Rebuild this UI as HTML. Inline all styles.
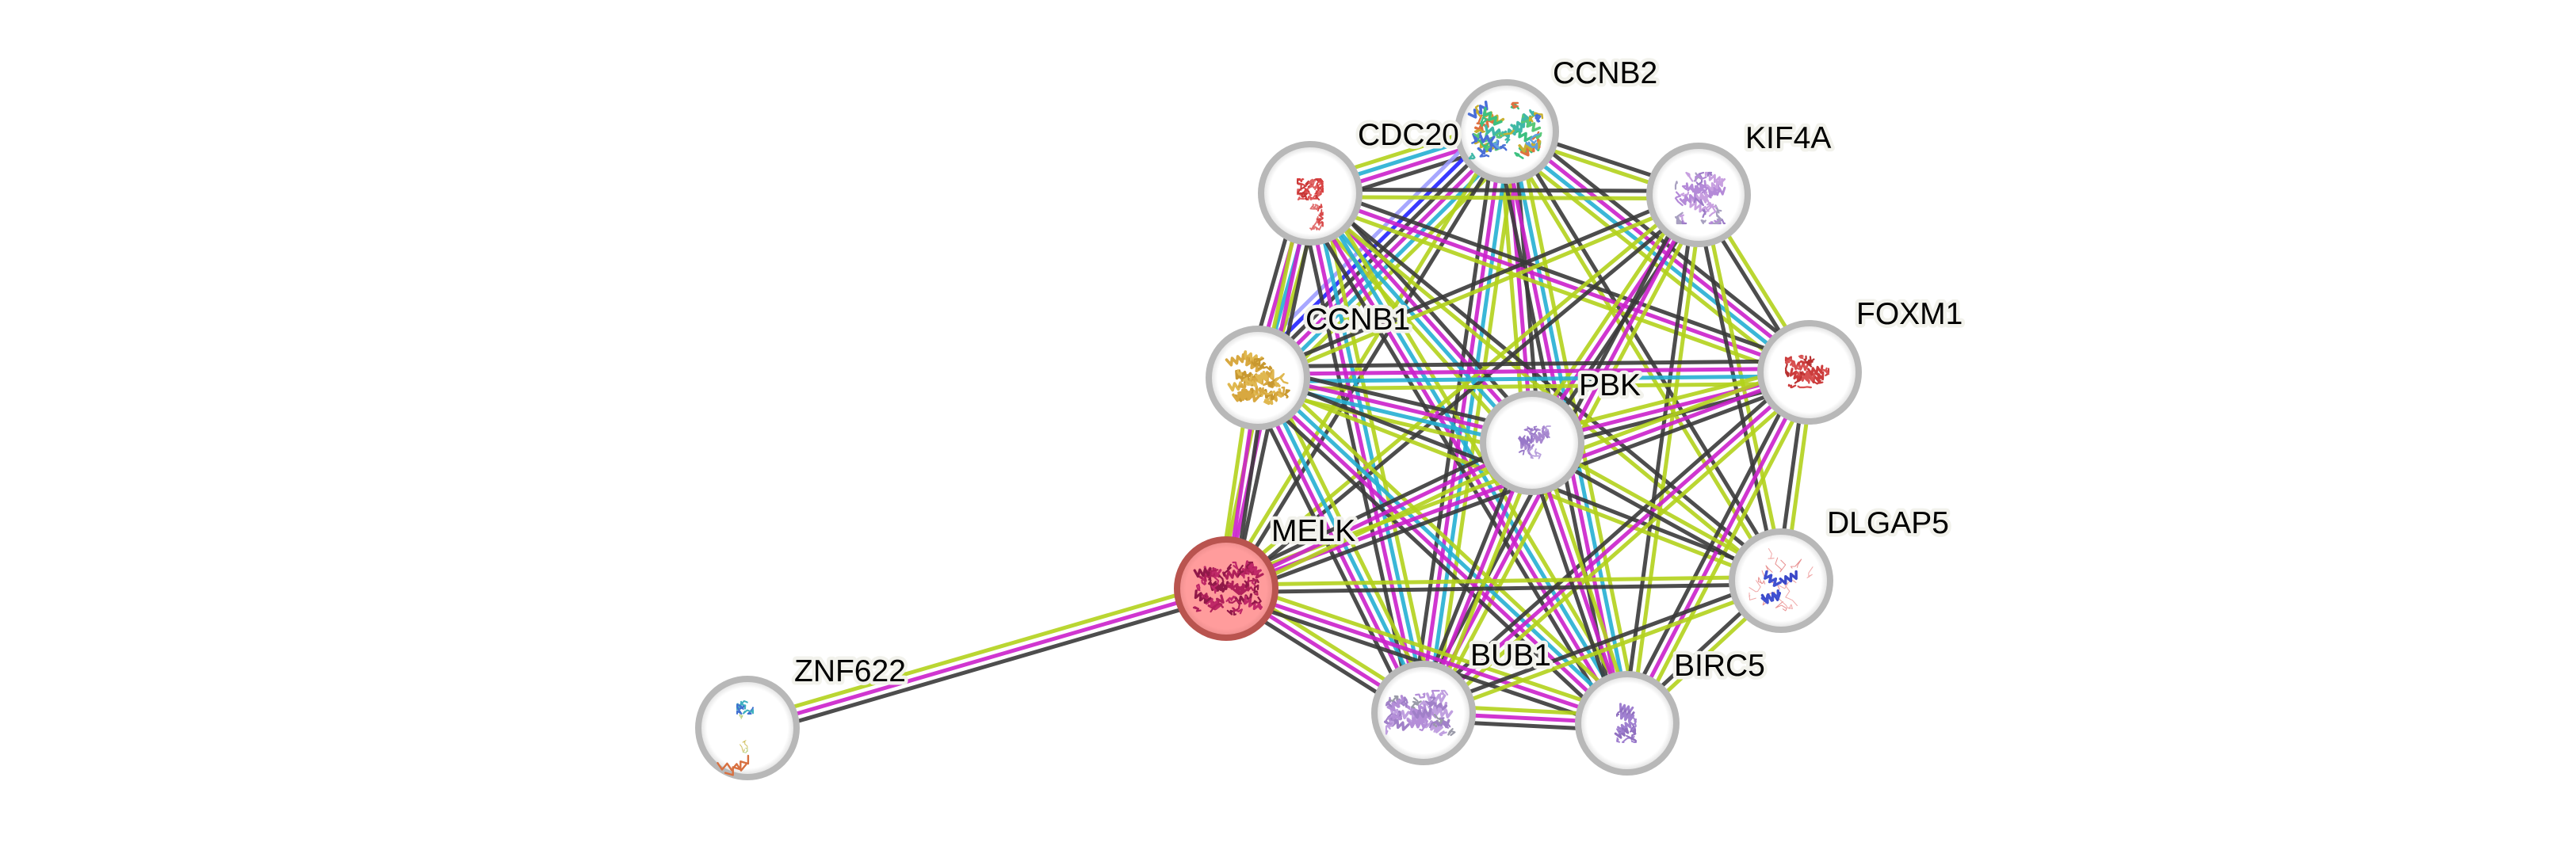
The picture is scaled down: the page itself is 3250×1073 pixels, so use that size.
<!DOCTYPE html>
<html>
<head>
<meta charset="utf-8">
<style>
html,body{margin:0;padding:0;background:#ffffff;}
svg{display:block;}
text{font-family:"Liberation Sans",Arial,sans-serif;font-size:39px;fill:#000;stroke:#f2f2ec;stroke-width:9px;stroke-linejoin:round;paint-order:stroke fill;}
</style>
</head>
<body>
<svg id="s" width="3250" height="1073" viewBox="0 0 3250 1073" xmlns="http://www.w3.org/2000/svg">
<defs>
<radialGradient id="gw" cx="50%" cy="50%" r="50%">
<stop offset="0.82" stop-color="#ffffff"/>
<stop offset="1" stop-color="#d8d8d8"/>
</radialGradient>
<radialGradient id="gp" cx="50%" cy="50%" r="50%">
<stop offset="0.82" stop-color="#ff9c9c"/>
<stop offset="1" stop-color="#e98a8a"/>
</radialGradient>
</defs>
<rect x="0" y="0" width="3250" height="1073" fill="#ffffff"/>
<g id="edges"></g>
<g id="nodes">
<circle cx="1901" cy="166" r="62" fill="url(#gw)" stroke="#b8b8b8" stroke-width="8"/>
<circle cx="1653" cy="244" r="62" fill="url(#gw)" stroke="#b8b8b8" stroke-width="8"/>
<circle cx="2143" cy="246" r="62" fill="url(#gw)" stroke="#b8b8b8" stroke-width="8"/>
<circle cx="1587" cy="477" r="62" fill="url(#gw)" stroke="#b8b8b8" stroke-width="8"/>
<circle cx="2283" cy="470" r="62" fill="url(#gw)" stroke="#b8b8b8" stroke-width="8"/>
<circle cx="1933" cy="559" r="62" fill="url(#gw)" stroke="#b8b8b8" stroke-width="8"/>
<circle cx="1547" cy="743" r="62" fill="url(#gp)" stroke="#b9544f" stroke-width="8"/>
<circle cx="2247" cy="733" r="62" fill="url(#gw)" stroke="#b8b8b8" stroke-width="8"/>
<circle cx="1796" cy="900" r="62" fill="url(#gw)" stroke="#b8b8b8" stroke-width="8"/>
<circle cx="2053" cy="913" r="62" fill="url(#gw)" stroke="#b8b8b8" stroke-width="8"/>
<circle cx="943" cy="919" r="62" fill="url(#gw)" stroke="#b8b8b8" stroke-width="8"/>
</g>
<g id="decor"></g>
<g id="labels">
<text x="1959" y="105">CCNB2</text>
<text x="1713" y="183">CDC20</text>
<text x="2202" y="187">KIF4A</text>
<text x="1647" y="416">CCNB1</text>
<text x="2342" y="409">FOXM1</text>
<text x="1992" y="499">PBK</text>
<text x="1604" y="683">MELK</text>
<text x="2305" y="673">DLGAP5</text>
<text x="1855" y="840">BUB1</text>
<text x="2112" y="853">BIRC5</text>
<text x="1002" y="860">ZNF622</text>
</g>
</svg>
<script>
(function(){
var ns="http://www.w3.org/2000/svg";
var N={CCNB2:[1901,166],CDC20:[1653,244],KIF4A:[2143,246],CCNB1:[1587,477],FOXM1:[2283,470],PBK:[1933,559],MELK:[1547,743],DLGAP5:[2247,733],BUB1:[1796,900],BIRC5:[2053,913],ZNF622:[943,919]};
var COL={L:"#b2d11c",C:"#25afd3",M:"#cb20cb",K:"#3a3a3a",B:"#2424ff",P:"#9d9dff"};
var E=[
["CCNB2","CDC20","LCMK"],["CCNB2","KIF4A","LK"],["CCNB2","CCNB1","LCMKBP"],["CCNB2","FOXM1","LCMK"],["CCNB2","PBK","LMK"],["CCNB2","MELK","LK"],["CCNB2","DLGAP5","LK"],["CCNB2","BUB1","LCMK"],["CCNB2","BIRC5","LCMK"],
["CDC20","KIF4A","LK"],["CDC20","CCNB1","LCMK"],["CDC20","FOXM1","LMK"],["CDC20","PBK","LCMK"],["CDC20","MELK","LMK"],["CDC20","DLGAP5","LK"],["CDC20","BUB1","LCMK"],["CDC20","BIRC5","LCMK"],
["KIF4A","CCNB1","LK"],["KIF4A","FOXM1","LK"],["KIF4A","PBK","LMK"],["KIF4A","MELK","LK"],["KIF4A","DLGAP5","LK"],["KIF4A","BUB1","LMK"],["KIF4A","BIRC5","LK"],
["CCNB1","FOXM1","LCMK"],["CCNB1","PBK","LCMK"],["CCNB1","MELK","LMK"],["CCNB1","DLGAP5","LK"],["CCNB1","BUB1","LCMK"],["CCNB1","BIRC5","LCMK"],
["FOXM1","PBK","LMK"],["FOXM1","MELK","LMK"],["FOXM1","DLGAP5","LK"],["FOXM1","BUB1","LMK"],["FOXM1","BIRC5","LMK"],
["PBK","MELK","LMK"],["PBK","DLGAP5","LK"],["PBK","BUB1","LMK"],["PBK","BIRC5","LMK"],
["MELK","DLGAP5","LK"],["MELK","BUB1","LMK"],["MELK","BIRC5","LMK"],["MELK","ZNF622","LMK"],
["DLGAP5","BUB1","LK"],["DLGAP5","BIRC5","LK"],["BUB1","BIRC5","LMK"]
];
var g=document.getElementById("edges");
E.forEach(function(e){
  var a=e[0],b=e[1];
  if(a<b){var t=a;a=b;b=t;}
  var p=N[a],q=N[b];
  var dx=q[0]-p[0],dy=q[1]-p[1],l=Math.sqrt(dx*dx+dy*dy);
  var px=-dy/l,py=dx/l;
  var ch=e[2],n=ch.length;
  for(var i=0;i<n;i++){
    var o=(i-(n-1)/2)*9.5;
    var ln=document.createElementNS(ns,"line");
    ln.setAttribute("x1",(p[0]+px*o).toFixed(2));
    ln.setAttribute("y1",(p[1]+py*o).toFixed(2));
    ln.setAttribute("x2",(q[0]+px*o).toFixed(2));
    ln.setAttribute("y2",(q[1]+py*o).toFixed(2));
    ln.setAttribute("stroke",COL[ch[i]]);
    ln.setAttribute("stroke-width","5");
    ln.setAttribute("stroke-opacity","0.9");
    g.appendChild(ln);
  }
});
var d=document.getElementById("decor");
var seed=12345;
function rnd(){seed=(seed*16807)%2147483647;return seed/2147483647;}
function addPath(s,col,sw){
  var pa=document.createElementNS(ns,"path");
  pa.setAttribute("d",s);
  pa.setAttribute("fill","none");
  pa.setAttribute("stroke",col);
  pa.setAttribute("stroke-width",sw);
  pa.setAttribute("stroke-linecap","round");
  pa.setAttribute("stroke-linejoin","round");
  d.appendChild(pa);
}
function scrib(cx,cy,w,h,cols,count,sw,step){
  sw=sw||2.6; step=step||11;
  for(var k=0;k<count;k++){
    var x=cx+(rnd()-0.5)*w,y=cy+(rnd()-0.5)*h;
    var s="M"+x.toFixed(1)+" "+y.toFixed(1);
    for(var j=0;j<5;j++){
      x+=(rnd()-0.5)*step;y+=(rnd()-0.5)*step;
      x=Math.max(cx-w/2,Math.min(cx+w/2,x));
      y=Math.max(cy-h/2,Math.min(cy+h/2,y));
      s+=" L"+x.toFixed(1)+" "+y.toFixed(1);
    }
    addPath(s,cols[k%cols.length],sw);
  }
}
function helix(cx,cy,w,h,cols,count,sw,len){
  sw=sw||3; len=len||24;
  for(var k=0;k<count;k++){
    var x=cx+(rnd()-0.5)*(w-len*0.6),y=cy+(rnd()-0.5)*(h-8);
    var ang=(rnd()-0.5)*1.4;
    var ca=Math.cos(ang),sa=Math.sin(ang);
    var s="";
    var segs=6;
    for(var j=0;j<=segs;j++){
      var t=-len/2+len*j/segs;
      var off=(j%2?4:-4);
      var px=x+ca*t-sa*off,py=y+sa*t+ca*off;
      s+=(j?" L":"M")+px.toFixed(1)+" "+py.toFixed(1);
    }
    addPath(s,cols[k%cols.length],sw);
  }
}
/* CCNB2 */
helix(1900,165,88,60,["#c8b030","#4a6fd8","#3cc080","#40b8a8","#58c878","#e07040"],16,3.5,26);
scrib(1900,165,92,70,["#c8b030","#4a6fd8","#3cc080","#40b8a8","#e07040","#60a0e0","#58c878"],30,2.4);
/* CDC20 */
scrib(1653,239,32,26,["#d84040","#e06060","#c83838"],26,2);
scrib(1661,274,16,32,["#d84848","#e07070"],10,1.8);
/* KIF4A */
helix(2145,248,56,52,["#b48ad8","#c8a0e0"],10,2.8,20);
scrib(2145,250,62,64,["#b48ad8","#a8a0c0","#c8a0e0","#9d7cc8"],30,2.2);
/* CCNB1 */
helix(1587,477,76,60,["#d8a840","#c89830","#e0b850"],16,3.6,22);
scrib(1587,477,80,66,["#d8a840","#c89830","#e0b850"],26,2.4);
/* FOXM1 */
helix(2280,469,48,34,["#cc3c3c","#d85050"],6,3,18);
scrib(2280,469,54,40,["#cc3c3c","#d85050","#b83030"],20,2.2);
/* PBK */
helix(1936,558,34,36,["#a888d0","#9878c8"],5,2.6,16);
scrib(1936,560,40,44,["#a888d0","#9878c8","#b8a0dc"],14,1.8);
/* MELK */
helix(1549,743,80,60,["#b0205a","#c02868","#901848"],16,3.2,20);
scrib(1549,743,86,66,["#b0205a","#c02868","#901848"],30,2.2);
/* DLGAP5 */
scrib(2247,733,80,90,["#e89090","#f0a8a8"],14,1,18);
helix(2247,742,40,40,["#4050d0","#3a48c8"],4,3.4,22);
/* BUB1 */
helix(1794,900,86,52,["#b48ed8","#a080c8","#c0a0e0"],18,3.4,22);
scrib(1794,900,90,56,["#b48ed8","#a080c8","#9a9aa8","#c0a0e0"],26,2.2);
/* BIRC5 */
helix(2052,912,22,46,["#a080d0","#9070c0"],5,3,16);
scrib(2052,912,24,50,["#a080d0","#9070c0"],12,2);
/* ZNF622 */
scrib(940,893,20,16,["#4070d0","#40b0c0"],8,2);
scrib(938,930,10,60,["#b8d080","#d0c060"],4,1,8);
helix(932,968,40,6,["#d87040"],2,2.4,36);
})();
</script>
</body>
</html>
